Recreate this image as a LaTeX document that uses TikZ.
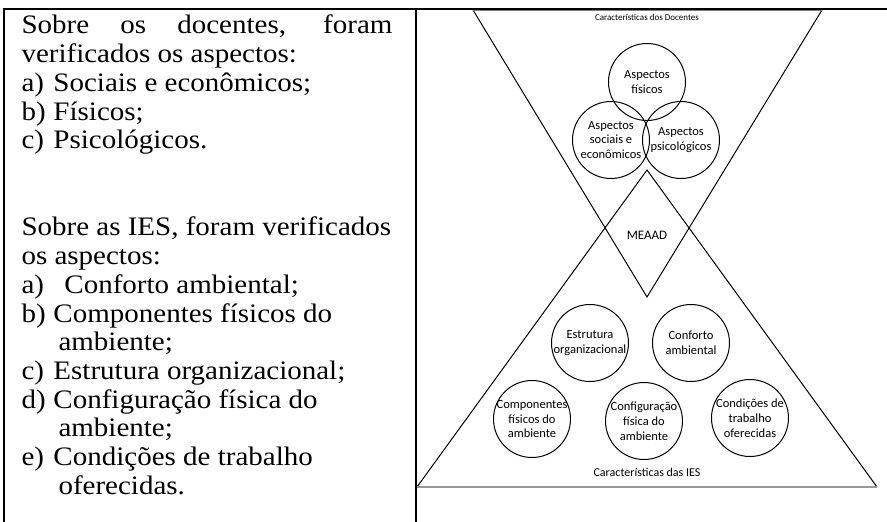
\documentclass[tikz,border=0pt]{standalone}
\usepackage{fontspec}
\setmainfont{Liberation Serif}
\newfontfamily\calibri{Carlito}

\begin{document}
\begin{tikzpicture}[x=1pt,y=-1pt,line width=1pt,
  lefttxt/.style={anchor=base west,inner sep=0pt,font=\fontsize{29}{31}\selectfont},
  aspect/.style={circle,draw,minimum size=77pt,inner sep=-7pt,align=center,
    font=\calibri\fontsize{12.5}{14.8}\selectfont},
  captxt/.style={inner sep=0pt,font=\calibri\fontsize{12}{14.6}\selectfont}]
  \useasboundingbox (0,0) rectangle (887,522);
  % table frame
  \draw[line width=2pt] (4,522) -- (4,9) -- (887,9);
  \draw[line width=2pt] (416,9) -- (416,522);
  % left column text
  \foreach \y/\ln [count=\i] in {
    34/{\makebox[371pt][s]{Sobre os docentes, foram}},
    62.7/{verificados os aspectos:},
    91.4/{\makebox[32pt][l]{a)}Sociais e econômicos;},
    120.1/{\makebox[32pt][l]{b)}Físicos;},
    148.8/{\makebox[32pt][l]{c)}Psicológicos.},
    235/{Sobre as IES, foram verificados},
    264/{os aspectos:},
    293.4/{\makebox[32pt][l]{a)}\hspace{11pt}Conforto ambiental;},
    322.1/{\makebox[32pt][l]{b)}Componentes físicos do},
    350.8/{\hspace*{37pt}ambiente;},
    379.5/{\makebox[32pt][l]{c)}Estrutura organizacional;},
    408.2/{\makebox[32pt][l]{d)}Configuração física do},
    436.9/{\hspace*{37pt}ambiente;},
    465.6/{\makebox[32pt][l]{e)}Condições de trabalho},
    494.3/{\hspace*{37pt}oferecidas.}}{
    \node[lefttxt] (ln\i) at (21,\y) {\scalebox{1}[0.92]{\ln}};
  }
  % triangles
  \coordinate (dtl) at (473,10);
  \coordinate (dtr) at (822,10);
  \coordinate (dbot) at (647,297);
  \coordinate (iapex) at (647,170);
  \coordinate (ibl) at (417,487);
  \coordinate (ibr) at (877,487);
  \draw (dtl) -- (dbot) -- (dtr);
  \draw[gray] (dtl) -- (dtr);
  \draw (ibl) -- (iapex) -- (ibr);
  \draw[gray!80,line width=1.5pt] (ibl) -- (ibr);
  % teachers
  \node[captxt,font=\calibri\fontsize{9}{10}\selectfont] (docentes) at (647,17) {Características dos Docentes};
  \node[aspect] (fis) at (647,82) {Aspectos\\físicos};
  \node[aspect] (soc) at (611,140) {Aspectos\\sociais e\\econômicos};
  \node[aspect] (psi) at (681,140) {Aspectos\\psicológicos};
  \node[captxt,font=\calibri\fontsize{13}{15}\selectfont] (meaad) at (647,235) {MEAAD};
  % institutions
  \node[aspect] (est) at (590,343) {Estrutura\\organizacional};
  \node[aspect] (conf) at (691,343) {Conforto\\ambiental};
  \node[aspect] (comp) at (532,419) {Componentes\\físicos do\\ambiente};
  \node[aspect] (cfg) at (644,421) {Configuração\\física do\\ambiente};
  \node[aspect] (cond) at (750,418) {Condições de\\trabalho\\oferecidas};
  \node[captxt] (ies) at (647,472) {Características das IES};
\end{tikzpicture}
\end{document}
